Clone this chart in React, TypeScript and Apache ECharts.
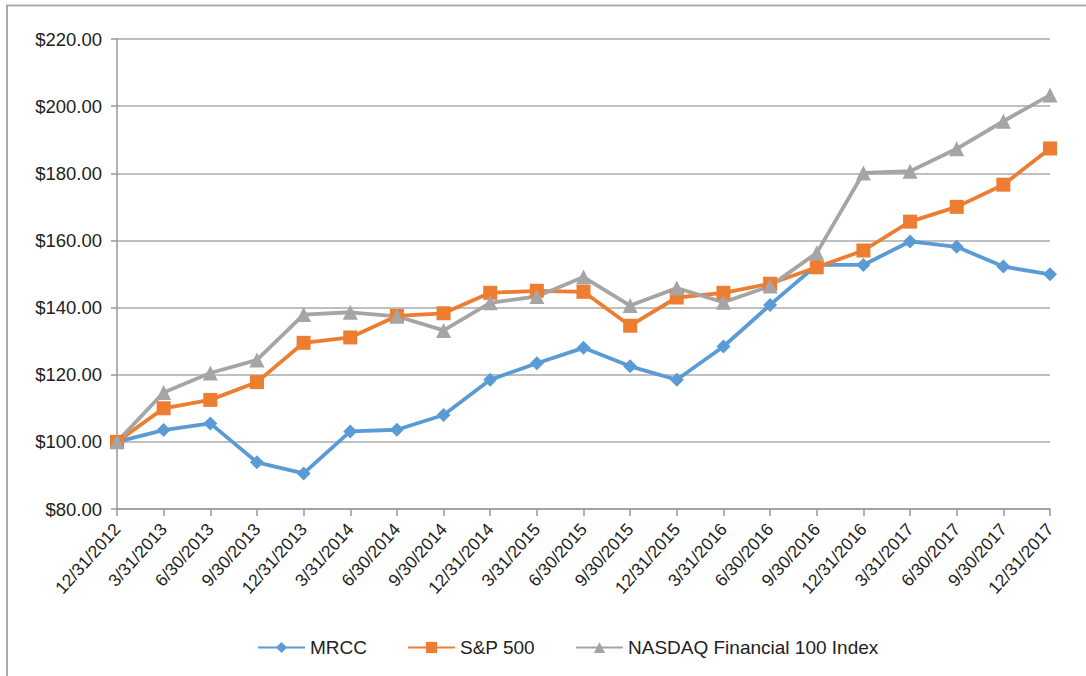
import React, { useEffect, useRef } from "react";
import * as echarts from "echarts";

const categories = [
  "12/31/2012", "3/31/2013", "6/30/2013", "9/30/2013", "12/31/2013",
  "3/31/2014", "6/30/2014", "9/30/2014", "12/31/2014", "3/31/2015",
  "6/30/2015", "9/30/2015", "12/31/2015", "3/31/2016", "6/30/2016",
  "9/30/2016", "12/31/2016", "3/31/2017", "6/30/2017", "9/30/2017", "12/31/2017",
];

const mrcc = [
  100, 103.5, 105.5, 93.9, 90.6, 103.1, 103.6, 108.0, 118.5, 123.4,
  128.0, 122.5, 118.5, 128.4, 140.8, 152.7, 152.7, 159.7, 158.1, 152.2, 149.9,
];

const sp500 = [
  100, 110.0, 112.5, 117.8, 129.5, 131.1, 137.5, 138.3, 144.4, 145.0,
  144.7, 134.6, 143.0, 144.4, 147.1, 152.0, 157.0, 165.6, 170.0, 176.6, 187.4,
];

const nasdaqFin = [
  100, 114.7, 120.5, 124.4, 137.9, 138.6, 137.4, 133.2, 141.4, 143.3,
  149.1, 140.6, 145.8, 141.6, 146.4, 156.3, 180.1, 180.6, 187.3, 195.5, 203.3,
];

const seriesNames = ["MRCC", "S&P 500", "NASDAQ Financial 100 Index"];
const colors = ["#5B9BD5", "#ED7D31", "#A5A5A5"];

const FONT = "'Liberation Sans', Arial, Helvetica, sans-serif";

export default function App() {
  const ref = useRef<HTMLDivElement>(null);

  useEffect(() => {
    if (!ref.current) return;
    const chart = echarts.init(ref.current, null, { renderer: "svg" });
    const mk = (name: string, data: number[], color: string, symbol: string, size: number) => ({
      name,
      type: "line",
      data,
      symbol,
      symbolSize: size,
      showSymbol: true,
      lineStyle: { color, width: 3.8 },
      itemStyle: { color, borderWidth: 0 },
      emphasis: { disabled: true },
    });
    chart.setOption({
      animation: false,
      backgroundColor: "#ffffff",
      textStyle: { fontFamily: FONT },
      graphic: [
        {
          type: "rect",
          shape: { x: 7, y: 5.5, width: 1100, height: 700 },
          style: { fill: "none", stroke: "#ababab", lineWidth: 2 },
          silent: true,
        },
      ],
      grid: { left: 117, right: 36, top: 39, bottom: 167, containLabel: false },
      legend: {
        data: seriesNames,
        top: 633,
        left: 252,
        itemWidth: 47,
        itemHeight: 14,
        itemGap: 40,
        textStyle: { fontSize: 19, color: "#222", fontFamily: FONT },
      },
      xAxis: {
        type: "category",
        data: categories,
        boundaryGap: false,
        axisLine: { show: true, lineStyle: { color: "#999", width: 1.5 } },
        axisTick: { show: true, alignWithLabel: true, length: 7, lineStyle: { color: "#999", width: 1.5 } },
        axisLabel: {
          rotate: 48,
          interval: 0,
          margin: 17,
          fontSize: 17.5,
          color: "#222",
          fontFamily: FONT,
        },
        splitLine: { show: false },
      },
      yAxis: {
        type: "value",
        min: 80,
        max: 220,
        interval: 20,
        axisLine: { show: true, lineStyle: { color: "#999", width: 1.5 } },
        axisTick: { show: true, length: 6, lineStyle: { color: "#999", width: 1.5 } },
        axisLabel: {
          margin: 15,
          fontSize: 18.5,
          color: "#222",
          fontFamily: FONT,
          formatter: (v: number) => "$" + v.toFixed(2),
        },
        splitLine: { show: true, lineStyle: { color: "#aaaaaa", width: 1.5 } },
      },
      series: [
        mk(seriesNames[0], mrcc, colors[0], "diamond", 14),
        mk(seriesNames[1], sp500, colors[1], "rect", 14),
        mk(seriesNames[2], nasdaqFin, colors[2], "triangle", 15),
      ],
    });
    return () => chart.dispose();
  }, []);

  return (
    <div
      ref={ref}
      style={{ position: "fixed", left: 0, top: 0, width: 1086, height: 676, background: "#fff" }}
    />
  );
}
